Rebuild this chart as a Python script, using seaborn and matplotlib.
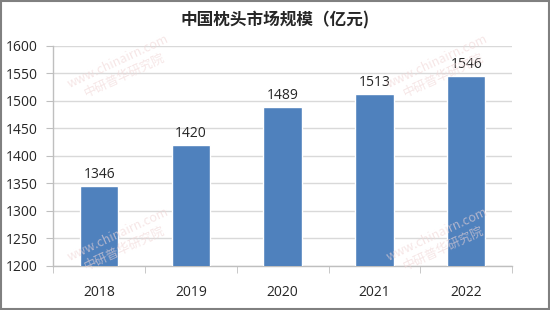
import matplotlib
matplotlib.use("Agg")
import matplotlib.pyplot as plt
import seaborn as sns
import pandas as pd
from matplotlib.patches import Rectangle

years = ["2018", "2019", "2020", "2021", "2022"]
values = [1346, 1420, 1489, 1513, 1546]
title = "中国枕头市场规模（亿元)"

sns.set_style("white")
plt.rcParams['font.family'] = ['Noto Sans CJK SC', 'DejaVu Sans']

df = pd.DataFrame({"year": years, "value": values})

fig = plt.figure(figsize=(5.5, 3.1), dpi=100)
ax = fig.add_axes([0.097, 0.142, 0.834, 0.71])

# faint watermarks
for (x, y) in [(0.22, 0.78), (0.80, 0.78), (0.22, 0.22), (0.80, 0.22)]:
    fig.text(x, y, "www.chinairn.com\n中研普华研究院", rotation=25, ha="center", va="center",
             fontsize=9, color="#f0d6d6", alpha=0.6, zorder=0)

sns.barplot(data=df, x="year", y="value", ax=ax, color="#4F81BD", saturation=1,
            width=0.42, zorder=3)
ax.set_ylim(1200, 1600)
ax.set_yticks(range(1200, 1601, 50))
ax.yaxis.grid(True, color="#D9D9D9", linewidth=1, zorder=0)
ax.set_axisbelow(True)
ax.set_xlabel("")
ax.set_ylabel("")
for s in ["top", "right"]:
    ax.spines[s].set_visible(False)
for s in ["left", "bottom"]:
    ax.spines[s].set_color("#BFBFBF")
    ax.spines[s].set_linewidth(1)

for lab in ax.get_yticklabels():
    lab.set_fontfamily(['Open Sans', 'DejaVu Sans'])
for lab in ax.get_xticklabels():
    lab.set_fontfamily(['Open Sans', 'DejaVu Sans'])
ax.tick_params(axis="y", labelsize=10, length=5, color="#BFBFBF", direction="out", left=True, pad=6)
ax.tick_params(axis="x", labelsize=10, length=0, pad=14)
# minor ticks at category boundaries
ax.set_xticks([i - 0.5 for i in range(len(years) + 1)], minor=True)
ax.tick_params(axis="x", which="minor", length=5, color="#BFBFBF", bottom=True, direction="out")
ax.set_xlim(-0.5, len(years) - 0.5)

for i, v in enumerate(values):
    ax.text(i, v + 7, str(v), ha="center", va="bottom", fontsize=10,
            family=['Open Sans', 'DejaVu Sans'], zorder=4)

fig.text(0.5, 0.935, title, ha="center", va="center", fontsize=12, fontweight="bold")

fig.patches.append(Rectangle((0.002, 0.003), 0.996, 0.994, transform=fig.transFigure,
                             fill=False, edgecolor="#808080", linewidth=1.5))

fig.savefig("out.png", dpi=100)
